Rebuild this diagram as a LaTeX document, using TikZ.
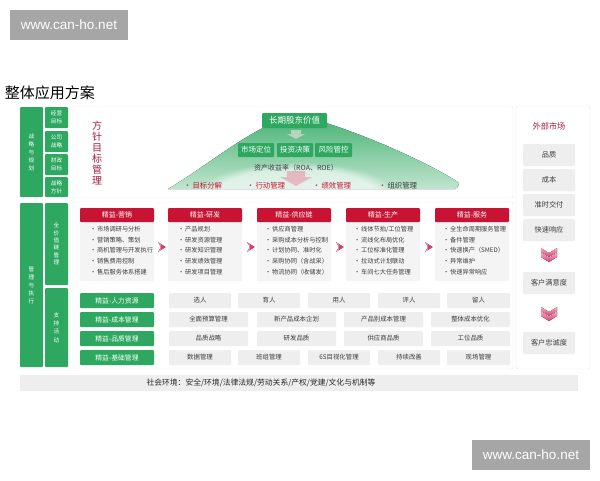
\documentclass[tikz,border=0pt]{standalone}
\usepackage{fontspec}
\setmainfont{Noto Sans CJK SC}
\newfontfamily\wmfont{Liberation Sans}
\usetikzlibrary{fadings}
\definecolor{gmain}{RGB}{46,168,96}
\definecolor{rhead}{RGB}{200,20,50}
\definecolor{dred}{RGB}{165,30,65}
\definecolor{pinkA}{RGB}{220,60,110}
\definecolor{pinkB}{RGB}{245,170,195}
\definecolor{gbg}{RGB}{238,238,238}
\definecolor{lbg}{RGB}{244,244,244}
\definecolor{txt}{RGB}{60,60,60}
\definecolor{wmgray}{RGB}{166,166,166}
\definecolor{pline}{RGB}{232,232,232}
\newcommand\dchev[2]{%
  \foreach \k in {0,5}{%
    \fill[top color=pinkB, bottom color=pinkA]
      (#1-8,#2-7+\k) -- (#1,#2-2+\k) -- (#1+8,#2-7+\k) -- (#1+8,#2-3+\k) -- (#1,#2+2+\k) -- (#1-8,#2-3+\k) -- cycle;}}
\newcommand\rchev[2]{%
  \fill[left color=pinkB, right color=pinkA]
    (#1-4,#2-5) -- (#1+3,#2) -- (#1-4,#2+5) -- (#1-1,#2) -- cycle;
  \fill[pinkA] (#1-1,#2-3) -- (#1+4,#2) -- (#1-1,#2+3) -- cycle;}
\begin{document}
\begin{tikzpicture}[x=1pt,y=-1pt,
  every node/.style={inner sep=0pt, outer sep=0pt},
  box/.style={anchor=north west, rounded corners=1pt, align=center},
  gcol/.style={box, fill=gmain, text=white},
  vtxt/.style={font=\fontsize{5.6}{8}\selectfont},
  head/.style={box, fill=rhead, text=white, minimum width=74pt, minimum height=14pt, font=\fontsize{7}{8}\selectfont},
  body/.style={box, fill=lbg, minimum width=74pt, minimum height=59pt},
  item/.style={anchor=west, text=txt, font=\fontsize{6.2}{7}\selectfont},
  sup/.style={box, fill=gmain, text=white, minimum width=74pt, minimum height=15pt, font=\fontsize{6.8}{8}\selectfont},
  gcell/.style={box, fill=gbg, text=txt, minimum height=15pt, font=\fontsize{6.4}{8}\selectfont},
  rcell/.style={box, fill=gbg, text=txt, minimum width=52pt, minimum height=22pt, font=\fontsize{7.2}{8}\selectfont},
  sbox/.style={box, fill=gmain, text=white, minimum height=14pt, font=\fontsize{7.5}{8}\selectfont},
  tag/.style={text=rhead, font=\fontsize{7.4}{8}\selectfont},
  wm/.style={box, fill=wmgray, text=white, minimum width=118pt, minimum height=30pt, rounded corners=0pt, font=\wmfont\fontsize{13.5}{14}\selectfont}
]
\useasboundingbox (0,0) rectangle (600,480);
\fill[white] (0,0) rectangle (600,480);

% watermarks
\node[wm] (wm1) at (10,10) {www.can-ho.net};
\node[wm] (wm2) at (472,440) {www.can-ho.net};

% title
\node[anchor=north west, font=\fontsize{15}{16}\selectfont] (title) at (5,86) {整体应用方案};

% panels
\draw[pline, rounded corners=2pt] (73,106) rectangle (513,198);
\draw[pline, rounded corners=2pt] (73,202) rectangle (513,369);
\draw[pline, rounded corners=2pt] (516,106) rectangle (590,369);

% left green columns
\node[gcol, minimum width=23pt, minimum height=90pt, vtxt] (zl) at (20,107) {战\\略\\与\\规\\划};
\node[gcol, minimum width=23pt, minimum height=21pt, vtxt] (z1) at (45,107) {经营\\目标};
\node[gcol, minimum width=23pt, minimum height=21pt, vtxt] (z2) at (45,131) {公司\\战略};
\node[gcol, minimum width=23pt, minimum height=21pt, vtxt] (z3) at (45,154) {财政\\目标};
\node[gcol, minimum width=23pt, minimum height=20pt, vtxt] (z4) at (45,177) {战略\\方针};
\node[gcol, minimum width=23pt, minimum height=164pt, vtxt] (gl) at (20,203) {管\\理\\与\\执\\行};
\node[gcol, minimum width=23pt, minimum height=82pt, font=\fontsize{5.6}{7.4}\selectfont] (g1) at (45,203) {全\\价\\值\\链\\管\\理};
\node[gcol, minimum width=23pt, minimum height=79pt, font=\fontsize{5.6}{8.3}\selectfont] (g2) at (45,288) {支\\持\\活\\动};

% strategy triangle
\fill[top color=gmain!90, bottom color=gmain!30]
  (296,114) .. controls (350,128) and (420,158) .. (458,182)
  to[out=30,in=0] (455,189) -- (168,189)
  .. controls (210,164) and (250,128) .. (296,114) -- cycle;
\begin{scope}
  \clip (296,114) .. controls (350,128) and (420,158) .. (462,189) -- (165,189) .. controls (210,164) and (250,128) .. cycle;
  \fill[white, path fading=circle with fuzzy edge 20 percent, opacity=0.6] (296,196) ellipse (100pt and 34pt);
\end{scope}
% faint arrows in triangle
\fill[pinkB!60!gmain!40, opacity=0.7] (291,130) -- (301,130) -- (301,134) -- (305,134) -- (296,139) -- (287,134) -- (291,134) -- cycle;
\fill[pinkA!60, opacity=0.55] (287,171) -- (305,171) -- (305,177) -- (312,177) -- (296,186) -- (280,177) -- (287,177) -- cycle;

\node[sbox, minimum width=65pt, minimum height=15pt, font=\fontsize{8.5}{9}\selectfont] (lt) at (262,113) {长期股东价值};
\node[sbox, minimum width=36pt] (s1) at (238,143) {市场定位};
\node[sbox, minimum width=36pt] (s2) at (277,143) {投资决策};
\node[sbox, minimum width=37pt] (s3) at (315,143) {风险管控};
\node[text=txt, font=\fontsize{7}{8}\selectfont] (roa) at (296,168) {资产收益率（ROA、ROE）};

\node[tag] (t1) at (203,185.5) {•\,目标分解};
\node[tag] (t2) at (266,185.5) {•\,行动管理};
\node[tag] (t3) at (332,185.5) {•\,绩效管理};
\node[tag, text=txt] (t4) at (398,185.5) {{\color{dred}•}\,组织管理};

\node[align=center, text=dred, font=\fontsize{10}{11}\selectfont] (fz) at (97,153) {方\\针\\目\\标\\管\\理};

% value chain columns
\node[body] (b1) at (80,222) {};
\node[body] (b2) at (168,222) {};
\node[body] (b3) at (257,222) {};
\node[body] (b4) at (346,222) {};
\node[body] (b5) at (435,222) {};
\node[head] (h1) at (80,208) {精益-营销};
\node[head] (h2) at (168,208) {精益-研发};
\node[head] (h3) at (257,208) {精益-供应链};
\node[head] (h4) at (346,208) {精益-生产};
\node[head] (h5) at (435,208) {精益-服务};

\foreach \t [count=\i] in {市场调研与分析,营销策略、策划,商机管理与开发执行,销售费用控制,售后服务体系搭建}
  \node[item] (ia\i) at (90,218.3+10.7*\i) {•\,\t};
\foreach \t [count=\i] in {产品规划,研发资源管理,研发知识管理,研发绩效管理,研发项目管理}
  \node[item] (ib\i) at (178,218.3+10.7*\i) {•\,\t};
\foreach \t [count=\i] in {供应商管理,采购成本分析与控制,计划协同、准时化,采购协同（含战采）,物流协同（收储发）}
  \node[item] (ic\i) at (265,218.3+10.7*\i) {•\,\t};
\foreach \t [count=\i] in {线体节拍/工位管理,流线化布局优化,工位标准化管理,拉动式计划联动,车间七大任务管理}
  \node[item] (id\i) at (354,218.3+10.7*\i) {•\,\t};
\foreach \t [count=\i] in {全生命周期服务管理,备件管理,快速换产（SMED）,异常维护,快速异常响应}
  \node[item] (ie\i) at (443,218.3+10.7*\i) {•\,\t};

\rchev{162}{247}
\rchev{251}{247}
\rchev{340}{247}
\rchev{429}{247}

% support activities
\node[sup] (p1) at (80,293) {精益-人力资源};
\node[sup] (p2) at (80,312) {精益-成本管理};
\node[sup] (p3) at (80,331) {精益-品质管理};
\node[sup] (p4) at (80,350) {精益-基础管理};

\node[gcell, minimum width=62pt] (r11) at (169,293) {选人};
\node[gcell, minimum width=62pt] (r12) at (238,293) {育人};
\node[gcell, minimum width=62pt] (r13) at (308,293) {用人};
\node[gcell, minimum width=62pt] (r14) at (378,293) {评人};
\node[gcell, minimum width=63pt] (r15) at (447,293) {留人};

\node[gcell, minimum width=79pt] (r21) at (169,312) {全面预算管理};
\node[gcell, minimum width=79pt] (r22) at (257,312) {新产品成本企划};
\node[gcell, minimum width=79pt] (r23) at (344,312) {产品别成本管理};
\node[gcell, minimum width=79pt] (r24) at (431,312) {整体成本优化};

\node[gcell, minimum width=79pt] (r31) at (169,331) {品质战略};
\node[gcell, minimum width=79pt] (r32) at (257,331) {研发品质};
\node[gcell, minimum width=79pt] (r33) at (344,331) {供应商品质};
\node[gcell, minimum width=79pt] (r34) at (431,331) {工位品质};

\node[gcell, minimum width=62pt] (r41) at (169,350) {数据管理};
\node[gcell, minimum width=62pt] (r42) at (238,350) {班组管理};
\node[gcell, minimum width=62pt] (r43) at (308,350) {6S目视化管理};
\node[gcell, minimum width=62pt] (r44) at (378,350) {持续改善};
\node[gcell, minimum width=63pt] (r45) at (447,350) {现场管理};

% social bar
\node[box, fill=gbg, rounded corners=0pt, minimum width=558pt, minimum height=16pt] (soc) at (20,375) {};
\node[text=black!85, font=\fontsize{7.8}{9}\selectfont] (soct) at (261,383) {社会环境：安全/环境/法律法规/劳动关系/产权/党建/文化与机制等};

% right column
\node[text=dred, font=\fontsize{8.2}{9}\selectfont] (ext) at (549,126) {外部市场};
\node[rcell] (q1) at (523,144) {品质};
\node[rcell] (q2) at (523,169) {成本};
\node[rcell] (q3) at (523,194) {准时交付};
\node[rcell] (q4) at (523,219) {快速响应};
\dchev{549}{255}
\node[rcell] (q5) at (523,272) {客户满意度};
\dchev{549}{314}
\node[rcell] (q6) at (523,332) {客户忠诚度};
\end{tikzpicture}
\end{document}
